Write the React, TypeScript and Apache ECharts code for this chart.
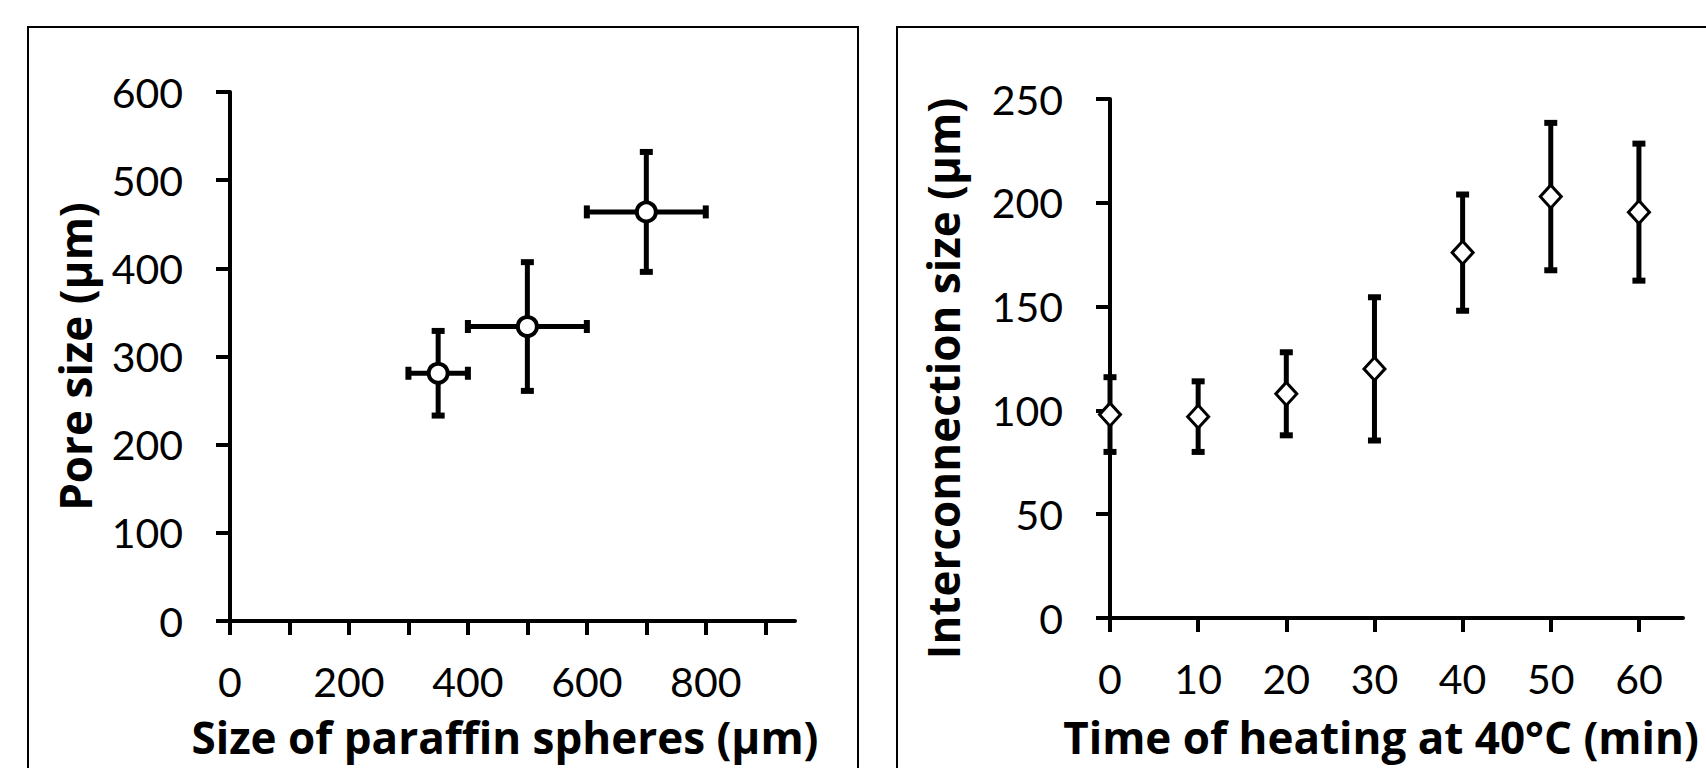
import React, { useEffect, useRef } from "react";
import * as echarts from "echarts";

// ---- data ----
const sphereSize = [350, 500, 700];
const sphereSizeErr = [50, 100, 100];
const poreSize = [281, 334, 464];
const poreSizeErr = [48, 73, 68];

const heatingTime = [0, 10, 20, 30, 40, 50, 60];
const interconnectionSize = [98, 97, 108, 120, 176, 203, 195.5];
const interconnectionErr = [18, 17, 20, 34.5, 28, 35.5, 33];

const leftXTicks = [0, 100, 200, 300, 400, 500, 600, 700, 800, 900];
const leftXLabels = [0, 200, 400, 600, 800];
const rightXTicks = [0, 10, 20, 30, 40, 50, 60];

const FONT = "Lato";
const TITLE_FONT = "Open Sans";
const INK = "#000";

function errorBarRender(params: any, api: any) {
  const x = api.value(0);
  const y = api.value(1);
  const xe = api.value(2);
  const ye = api.value(3);
  const children: any[] = [];
  const st = { stroke: INK, lineWidth: 5 };
  if (ye > 0) {
    const t = api.coord([x, y + ye]);
    const b = api.coord([x, y - ye]);
    children.push({ type: "line", shape: { x1: t[0], y1: t[1], x2: b[0], y2: b[1] }, style: st });
    children.push({ type: "rect", shape: { x: t[0] - 6.5, y: t[1] - 3, width: 13, height: 6 }, style: { fill: INK } });
    children.push({ type: "rect", shape: { x: b[0] - 6.5, y: b[1] - 3, width: 13, height: 6 }, style: { fill: INK } });
  }
  if (xe > 0) {
    const l = api.coord([x - xe, y]);
    const r = api.coord([x + xe, y]);
    children.push({ type: "line", shape: { x1: l[0], y1: l[1], x2: r[0], y2: r[1] }, style: st });
    children.push({ type: "rect", shape: { x: l[0] - 3, y: l[1] - 6.5, width: 6, height: 13 }, style: { fill: INK } });
    children.push({ type: "rect", shape: { x: r[0] - 3, y: r[1] - 6.5, width: 6, height: 13 }, style: { fill: INK } });
  }
  return { type: "group", children };
}

const axisCommon = {
  axisLine: { show: true, onZero: false, lineStyle: { color: INK, width: 4 } },
  axisTick: { show: true, inside: false, length: 14, lineStyle: { color: INK, width: 4 } },
  splitLine: { show: false },
  nameTextStyle: { fontFamily: TITLE_FONT, fontWeight: "bold", fontSize: 44, color: INK },
};

export default function App() {
  const ref = useRef<HTMLDivElement>(null);
  useEffect(() => {
    if (!ref.current) return;
    const chart = echarts.init(ref.current, undefined, { renderer: "svg" });
    const leftData = sphereSize.map((s, i) => [s, poreSize[i], sphereSizeErr[i], poreSizeErr[i]]);
    const rightData = heatingTime.map((t, i) => [t, interconnectionSize[i], 0, interconnectionErr[i]]);
    chart.setOption({
      animation: false,
      backgroundColor: "#fff",
      graphic: [
        { type: "rect", shape: { x: 28, y: 27, width: 830, height: 800 }, style: { fill: "none", stroke: INK, lineWidth: 2 }, z: -1 },
        { type: "rect", shape: { x: 897, y: 27, width: 900, height: 800 }, style: { fill: "none", stroke: INK, lineWidth: 2 }, z: -1 },
      ],
      grid: [
        { left: 230, top: 92, width: 565, height: 529 },
        { left: 1110, top: 99, width: 573, height: 519 },
      ],
      xAxis: [
        {
          ...axisCommon,
          gridIndex: 0,
          type: "value",
          min: 0,
          max: 950,
          interval: 100,
          axisTick: { ...axisCommon.axisTick, customValues: leftXTicks },
          axisLabel: { customValues: leftXLabels, fontFamily: FONT, fontSize: 41, color: INK, margin: 40 },
          name: "Size of paraffin spheres (µm)",
          nameLocation: "middle",
          nameGap: 94,
          nameTextStyle: { ...axisCommon.nameTextStyle, padding: [0, 15, 0, 0] },
        },
        {
          ...axisCommon,
          gridIndex: 1,
          type: "value",
          min: 0,
          max: 65,
          interval: 10,
          axisTick: { ...axisCommon.axisTick, customValues: rightXTicks },
          axisLabel: { customValues: rightXTicks, fontFamily: FONT, fontSize: 41, color: INK, margin: 40 },
          name: "Time of heating at 40°C (min)",
          nameLocation: "middle",
          nameGap: 97,
          nameTextStyle: { ...axisCommon.nameTextStyle, padding: [0, 31, 0, 0] },
        },
      ],
      yAxis: [
        {
          ...axisCommon,
          gridIndex: 0,
          type: "value",
          min: 0,
          max: 600,
          interval: 100,
          axisLabel: { fontFamily: FONT, fontSize: 41, color: INK, margin: 47 },
          name: "Pore size (µm)",
          nameLocation: "middle",
          nameGap: 133,
        },
        {
          ...axisCommon,
          gridIndex: 1,
          type: "value",
          min: 0,
          max: 250,
          interval: 50,
          axisLabel: { fontFamily: FONT, fontSize: 41, color: INK, margin: 47 },
          name: "Interconnection size (µm)",
          nameLocation: "middle",
          nameGap: 145,
          nameTextStyle: { ...axisCommon.nameTextStyle, padding: [0, 40, 0, 0] },
        },
      ],
      series: [
        {
          type: "custom",
          xAxisIndex: 0,
          yAxisIndex: 0,
          renderItem: errorBarRender,
          data: leftData,
          encode: { x: 0, y: 1 },
          clip: false,
          z: 2,
        },
        {
          type: "scatter",
          xAxisIndex: 0,
          yAxisIndex: 0,
          data: leftData.map((d) => [d[0], d[1]]),
          symbol: "circle",
          symbolSize: 19,
          itemStyle: { color: "#fff", borderColor: INK, borderWidth: 4, opacity: 1 },
          z: 3,
        },
        {
          type: "custom",
          xAxisIndex: 1,
          yAxisIndex: 1,
          renderItem: errorBarRender,
          data: rightData,
          encode: { x: 0, y: 1 },
          clip: false,
          z: 2,
        },
        {
          type: "scatter",
          xAxisIndex: 1,
          yAxisIndex: 1,
          data: rightData.map((d) => [d[0], d[1]]),
          symbol: "diamond",
          symbolSize: [21, 23],
          itemStyle: { color: "#fff", borderColor: INK, borderWidth: 3, opacity: 1 },
          z: 3,
        },
      ],
    });
    return () => chart.dispose();
  }, []);
  return (
    <div
      ref={ref}
      style={{ position: "fixed", left: 0, top: 0, width: 1706, height: 768, background: "#fff" }}
    />
  );
}
